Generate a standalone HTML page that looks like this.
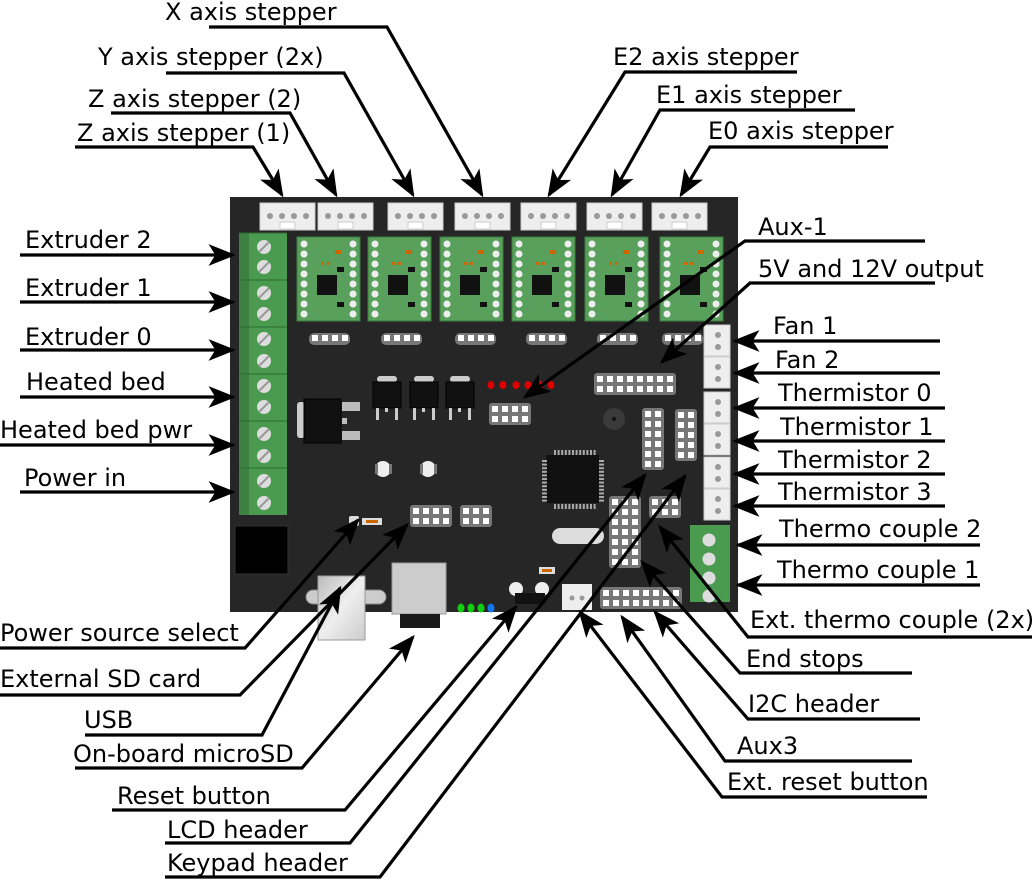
<!DOCTYPE html>
<html><head><meta charset="utf-8"><style>
html,body{margin:0;padding:0;background:#fff;}
svg{display:block;}
text{font-family:"DejaVu Sans","Liberation Sans",sans-serif;font-size:24px;fill:#000;}
</style></head><body>
<svg id="s" width="1032" height="881" viewBox="0 0 1032 881" xmlns="http://www.w3.org/2000/svg">
<defs>
<marker id="a" viewBox="0 0 20 16" refX="18" refY="8" markerWidth="8.5" markerHeight="6.8" markerUnits="strokeWidth" orient="auto">
<path d="M0,0 L20,8 L0,16 L5,8 z" fill="#000"/>
</marker>
<linearGradient id="sil" x1="0" y1="0" x2="1" y2="1"><stop offset="0" stop-color="#bbb"/><stop offset="0.5" stop-color="#eee"/><stop offset="1" stop-color="#ccc"/></linearGradient>
</defs>
<rect x="230" y="197" width="508" height="415" fill="#262626"/>
<g id="comp"></g>
<rect x="306" y="590" width="80" height="14" rx="7" fill="#ccc" stroke="#888"/>
<rect x="318" y="576" width="47" height="64" fill="url(#sil)" stroke="#999"/>
<rect x="392" y="563" width="54" height="51" fill="#ccc" stroke="#999"/>
<rect x="400" y="614" width="40" height="14" fill="#1a1a1a"/>
<g fill="#1c1"><ellipse cx="461" cy="608" rx="3.5" ry="4.5"/><ellipse cx="471" cy="608" rx="3.5" ry="4.5"/><ellipse cx="481" cy="608" rx="3.5" ry="4.5"/></g>
<ellipse cx="491" cy="608" rx="3.5" ry="4.5" fill="#17e"/>

<g fill="none" stroke="#000" stroke-width="3.2">
<polyline points="209,27 387,27 482,195" marker-end="url(#a)"/>
<polyline points="166,73 344,73 413,195" marker-end="url(#a)"/>
<polyline points="111,113 290,113 336,195" marker-end="url(#a)"/>
<polyline points="75,147 253,147 282,195" marker-end="url(#a)"/>
<polyline points="797,72 625,72 549,195" marker-end="url(#a)"/>
<polyline points="855,110 660,110 612,195" marker-end="url(#a)"/>
<polyline points="888,147 710,147 681,195" marker-end="url(#a)"/>
<polyline points="20,255 233,255" marker-end="url(#a)"/>
<polyline points="20,302 233,302" marker-end="url(#a)"/>
<polyline points="20,350 233,350" marker-end="url(#a)"/>
<polyline points="20,397 233,397" marker-end="url(#a)"/>
<polyline points="0,445 233,445" marker-end="url(#a)"/>
<polyline points="20,492 233,492" marker-end="url(#a)"/>
<polyline points="925,241 745,241 525,397" marker-end="url(#a)"/>
<polyline points="935,283 750,283 662,362" marker-end="url(#a)"/>
<polyline points="940,341 735,341" marker-end="url(#a)"/>
<polyline points="940,373 735,373" marker-end="url(#a)"/>
<polyline points="945,408 735,408" marker-end="url(#a)"/>
<polyline points="945,441 735,441" marker-end="url(#a)"/>
<polyline points="945,474 735,474" marker-end="url(#a)"/>
<polyline points="945,506 735,506" marker-end="url(#a)"/>
<polyline points="980,545 738,545" marker-end="url(#a)"/>
<polyline points="980,585 738,585" marker-end="url(#a)"/>
<polyline points="1032,637 748,637 660,527" marker-end="url(#a)"/>
<polyline points="912,673 740,673 642,562" marker-end="url(#a)"/>
<polyline points="920,719 748,719 655,612" marker-end="url(#a)"/>
<polyline points="912,761 725,761 622,617" marker-end="url(#a)"/>
<polyline points="927,797 722,797 580,612" marker-end="url(#a)"/>
<polyline points="0,648 245,648 358,520" marker-end="url(#a)"/>
<polyline points="0,695 240,695 407,525" marker-end="url(#a)"/>
<polyline points="85,735 262,735 340,588" marker-end="url(#a)"/>
<polyline points="75,768 302,768 413,637" marker-end="url(#a)"/>
<polyline points="112,810 345,810 516,607" marker-end="url(#a)"/>
<polyline points="165,843 350,843 645,475" marker-end="url(#a)"/>
<polyline points="165,877 380,877 685,476" marker-end="url(#a)"/>
</g>

<text x="165" y="20">X axis stepper</text>
<text x="98" y="65">Y axis stepper (2x)</text>
<text x="88" y="107">Z axis stepper (2)</text>
<text x="77" y="141">Z axis stepper (1)</text>
<text x="613" y="65">E2 axis stepper</text>
<text x="656" y="103">E1 axis stepper</text>
<text x="708" y="139">E0 axis stepper</text>
<text x="25" y="248">Extruder 2</text>
<text x="25" y="296">Extruder 1</text>
<text x="25" y="345">Extruder 0</text>
<text x="26" y="390">Heated bed</text>
<text x="0" y="438">Heated bed pwr</text>
<text x="24" y="486">Power in</text>
<text x="758" y="235">Aux-1</text>
<text x="758" y="277">5V and 12V output</text>
<text x="773" y="334">Fan 1</text>
<text x="775" y="368">Fan 2</text>
<text x="778" y="401">Thermistor 0</text>
<text x="780" y="435">Thermistor 1</text>
<text x="778" y="468">Thermistor 2</text>
<text x="778" y="500">Thermistor 3</text>
<text x="779" y="537">Thermo couple 2</text>
<text x="777" y="578">Thermo couple 1</text>
<text x="750" y="628">Ext. thermo couple (2x)</text>
<text x="746" y="667">End stops</text>
<text x="748" y="712">I2C header</text>
<text x="737" y="754">Aux3</text>
<text x="727" y="790">Ext. reset button</text>
<text x="0" y="641">Power source select</text>
<text x="0" y="687">External SD card</text>
<text x="84" y="728">USB</text>
<text x="73" y="762">On-board microSD</text>
<text x="117" y="804">Reset button</text>
<text x="167" y="838">LCD header</text>
<text x="167" y="871">Keypad header</text>
</svg>
<script>
var g=document.getElementById('comp'),h='';
function R(x,y,w,hh,f,ex){h+='<rect x="'+x+'" y="'+y+'" width="'+w+'" height="'+hh+'" fill="'+f+'" '+(ex||'')+'/>';}
function C(x,y,r,f,ex){h+='<circle cx="'+x+'" cy="'+y+'" r="'+r+'" fill="'+f+'" '+(ex||'')+'/>';}
function hdr(x,y,cols,rows){R(x-1,y-1,cols*10+2,rows*10+2,'#777','rx="3"');for(var i=0;i<cols;i++)for(var j=0;j<rows;j++)R(x+i*10+2,y+j*10+2,6,6,'#fff');}
[260,318,388,455,521,587,652].forEach(function(x){R(x,203,55,27,'#eee','stroke="#ccc"');for(var i=0;i<4;i++)C(x+10+i*12,216,3,'#999');R(x+20,222,15,7,'#fff','stroke="#ccc"');});
R(239,233,48,282,'#4a9a4f');R(239,233,10,282,'#3d8042');
[233,280,327,374,421,468].forEach(function(y){h+='<line x1="239" y1="'+y+'" x2="287" y2="'+y+'" stroke="#2e6a33" stroke-width="1"/>';});
[247,267,293,314,339,361,386,407,434,456,481,503].forEach(function(y){C(264,y,7,'#ddd');h+='<line x1="259" y1="'+(y+5)+'" x2="269" y2="'+(y-5)+'" stroke="#999" stroke-width="2"/>';});
R(690,525,40,77,'#4a9a4f');[540,559,578,596].forEach(function(y){C(709,y,6.5,'#ddd');});
[297,368,440,512,585,660].forEach(function(x){R(x,237,63,84,'#58a05c','stroke="#3c7d40"');for(var j=0;j<8;j++){C(x+7,244+j*10,3.5,'#eee');C(x+56,244+j*10,3.5,'#eee');}R(x+20,275,20,20,'#111');R(x+38,250,6,4,'#c60');R(x+24,262,3,3,'#c60');R(x+30,262,3,3,'#c60');R(x+40,267,7,5,'#111');R(x+40,302,7,5,'#111');});
[310,382,456,527,598,663].forEach(function(x){R(x-1,333,41,12,'#777','rx="5"');for(var i=0;i<4;i++)R(x+2+i*10,335,6,6,'#fff');});
[325,357,392,424,457,489].forEach(function(y){R(704,y,26,31,'#eee','stroke="#ccc"');C(718,y+10,3,'#999');C(718,y+22,3,'#999');});
[373,410,446].forEach(function(x){R(x+4,376,20,6,'#ccc','rx="3"');R(x,382,28,26,'#111','stroke="#000"');R(x+3,408,3,12,'#ccc');R(x+22,408,3,12,'#ccc');R(x+12,408,3,4,'#ccc');});
R(297,402,8,36,'#ccc','rx="3"');R(304,399,37,44,'#111','stroke="#000"');R(342,402,18,9,'#bbb');R(342,431,18,9,'#bbb');R(342,418,5,6,'#bbb');
[491,503,516,528,540,551].forEach(function(x){h+='<ellipse cx="'+x+'" cy="385" rx="3.5" ry="4" fill="#d00"/>';});
hdr(490,404,4,2);hdr(595,374,8,2);
C(614,419,11,'#3a3a3a');C(614,419,2,'#111');
R(546,455,53,48,'#111');for(var i=0;i<12;i++){R(554+i*3.6,450,2,5,'#aaa');R(554+i*3.6,504,2,5,'#aaa');R(542,460+i*3.6,5,2,'#aaa');R(599,460+i*3.6,5,2,'#aaa');}
hdr(643,409,2,6);hdr(676,410,2,5);hdr(610,497,3,7);hdr(650,497,3,2);hdr(601,588,8,2);
hdr(411,506,4,2);hdr(461,506,3,2);
C(383,469,8,'#eee');R(375,464,3,10,'#777');R(389,464,3,10,'#777');C(428,469,8,'#eee');R(420,464,3,10,'#777');R(434,464,3,10,'#777');
R(349,516,10,10,'#ddd','rx="2"');R(362,518,20,7,'#ddd');R(366,520,12,3,'#c60');
R(539,567,16,7,'#ddd');R(542,569,10,3,'#c60');
R(552,528,52,16,'#ddd','rx="8"');
R(235,526,53,48,'#000','stroke="#333"');
C(516,589,7,'#eee');C(542,589,7,'#eee');R(515,593,30,11,'#111');
R(562,584,30,26,'#eee');C(572,598,2.5,'#999');C(582,598,2.5,'#999');
g.innerHTML=h;
</script>
</body></html>
